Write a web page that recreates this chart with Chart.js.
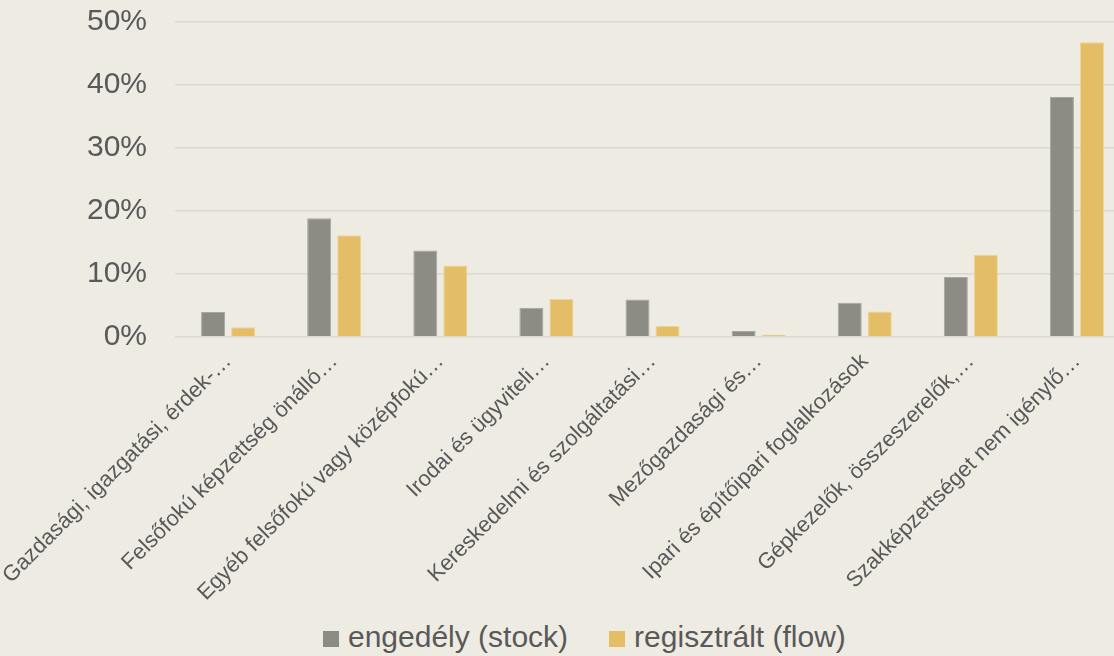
<!DOCTYPE html>
<html>
<head>
<meta charset="utf-8">
<script src="https://cdn.jsdelivr.net/npm/chart.js@4.4.1/dist/chart.umd.min.js"></script>
<style>
    html, body { margin: 0; padding: 0; background: #eeebe3; overflow: hidden; }
    body { width: 1114px; height: 656px; position: relative; }
    #wrap { width: 1130px; height: 610px; position: absolute; left: 0; top: 0; }
    .legend {
        position: absolute; left: 323px; top: 619px;
        display: flex; align-items: center;
        font-family: "Liberation Sans", Arial, sans-serif;
        font-size: 30px; line-height: 36px; color: #595959;
        white-space: nowrap;
    }
    .legend-item { display: flex; align-items: center; margin-right: 41px; }
    .legend-box { width: 16px; height: 16px; margin-right: 9px; margin-top: 3px; }
</style>
</head>
<body>
<div id="wrap"><canvas id="chart"></canvas></div>
<div class="legend" id="legend"></div>
<script>
// Categories (labels are shortened like in the original)
const categories = [
    'Gazdasági, igazgatási, érdek-…',
    'Felsőfokú képzettség önálló…',
    'Egyéb felsőfokú vagy középfokú…',
    'Irodai és ügyviteli…',
    'Kereskedelmi és szolgáltatási…',
    'Mezőgazdasági és…',
    'Ipari és építőipari foglalkozások',
    'Gépkezelők, összeszerelők,…',
    'Szakképzettséget nem igénylő…'
];
const stockValues = [3.9, 18.8, 13.7, 4.6, 5.9, 0.9, 5.4, 9.5, 38.1];
const flowValues = [1.5, 16.1, 11.3, 6.0, 1.7, 0.3, 4.0, 13.0, 46.8];
const seriesNames = ['engedély (stock)', 'regisztrált (flow)'];
const yTicks = [0, 10, 20, 30, 40, 50];

const textColor = '#595959';
const fontFamily = '"Liberation Sans", Arial, sans-serif';

document.addEventListener('DOMContentLoaded', function() {
    const ctx = document.getElementById('chart').getContext('2d');

    const chart = new Chart(ctx, {
        type: 'bar',
        data: {
            labels: categories,
            datasets: [{
                label: seriesNames[0],
                data: stockValues,
                backgroundColor: '#8c8c84',
                borderColor: '#a7a7a0',
                borderWidth: 1
            }, {
                label: seriesNames[1],
                data: flowValues,
                backgroundColor: '#e4be67',
                borderColor: '#efd391',
                borderWidth: 1
            }]
        },
        options: {
            responsive: true,
            maintainAspectRatio: false,
            animation: false,
            categoryPercentage: 0.566,
            barPercentage: 0.8,
            layout: {
                padding: { left: 59, right: 0, top: 0, bottom: 0 }
            },
            plugins: {
                tooltip: { enabled: false },
                legend: { display: false }
            },
            scales: {
                x: {
                    afterFit: axis => {
                        // rotated first label may hang past the plot's left edge
                        axis.paddingLeft = 0;
                    },
                    grid: { display: false },
                    border: { display: false },
                    ticks: {
                        color: textColor,
                        font: { family: fontFamily, size: 22 },
                        autoSkip: false,
                        minRotation: 45,
                        maxRotation: 45,
                        padding: 4
                    }
                },
                y: {
                    min: 0,
                    max: 50,
                    afterBuildTicks: axis => {
                        axis.ticks = yTicks.map(v => ({ value: v }));
                    },
                    afterFit: axis => {
                        // keep the plot top close to the 50% label
                        axis.paddingTop = 22;
                        axis.paddingBottom = 0;
                    },
                    grid: {
                        color: '#d9d8d2',
                        lineWidth: 1.5,
                        drawTicks: false
                    },
                    border: { display: false },
                    ticks: {
                        color: textColor,
                        font: { family: fontFamily, size: 30 },
                        padding: 28,
                        callback: value => `${value}%`
                    }
                }
            }
        }
    });

    // Legend built from the datasets
    const legend = document.getElementById('legend');
    chart.data.datasets.forEach(ds => {
        const item = document.createElement('div');
        item.className = 'legend-item';
        const box = document.createElement('span');
        box.className = 'legend-box';
        box.style.background = ds.backgroundColor;
        const label = document.createElement('span');
        label.textContent = ds.label;
        item.appendChild(box);
        item.appendChild(label);
        legend.appendChild(item);
    });
});
</script>
</body>
</html>
